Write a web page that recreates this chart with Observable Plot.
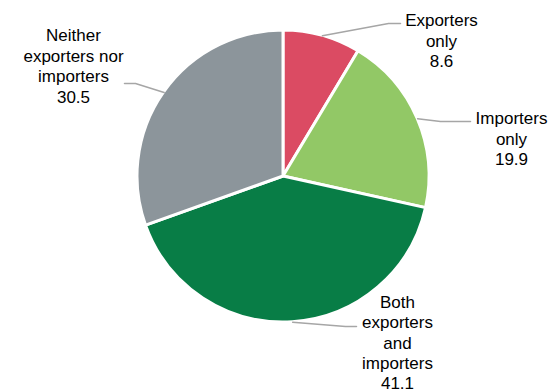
<!DOCTYPE html>
<html><head><meta charset="utf-8">
<script src="https://cdn.jsdelivr.net/npm/d3@7"></script>
<script src="https://cdn.jsdelivr.net/npm/@observablehq/plot@0.6"></script>
<style>body{margin:0;background:#fff}</style>
</head><body><div id="chart"></div>
<script>
// ---- data ----
const categories = ["Exporters only", "Importers only", "Both exporters and importers", "Neither exporters nor importers"];
const values = [8.6, 19.9, 41.1, 30.5];
const labelTexts = ["Exporters\nonly", "Importers\nonly", "Both\nexporters\nand\nimporters", "Neither\nexporters nor\nimporters"];

// ---- styles / layout ----
const colors = ["#DB4B63", "#92C866", "#087D46", "#8C959B"];
const R = 146; // pie radius in data units
const labelPos = [[158, 136.4], [228, 38.4], [114, -165.6], [-210, 111]];
const leaderBends = [
  [[105, 153], [117, 153]],
  [[157, 55], [187, 55]],
  [[62, -150], [73, -150]],
  [[-148, 93], [-159, 93]]
];

const arcs = d3.pie().sort(null).value(d => d)(values);
const rows = categories.map((c, i) => ({
  category: c,
  value: values[i],
  label: labelTexts[i] + "\n" + values[i].toFixed(1),
  mid: (arcs[i].startAngle + arcs[i].endAngle) / 2,
  lx: labelPos[i][0],
  ly: labelPos[i][1]
}));

const leaders = rows.flatMap((d, i) => [
  {k: i, x: R * Math.sin(d.mid), y: R * Math.cos(d.mid)},
  {k: i, x: leaderBends[i][0][0], y: leaderBends[i][0][1]},
  {k: i, x: leaderBends[i][1][0], y: leaderBends[i][1][1]}
]);

function wedges(index, scales) {
  const cx = scales.x(0), cy = scales.y(0);
  const r = scales.x(R) - scales.x(0);
  const arc = d3.arc().innerRadius(0).outerRadius(r);
  const g = d3.create("svg:g").attr("transform", `translate(${cx},${cy})`);
  g.selectAll("path").data(arcs).join("path")
    .attr("d", arc)
    .attr("fill", (d, i) => colors[i])
    .attr("stroke", "#fff")
    .attr("stroke-width", 3)
    .attr("stroke-linejoin", "round");
  return g.node();
}

const chart = Plot.plot({
  width: 550,
  height: 389,
  margin: 0,
  style: {background: "#fff", fontFamily: "'Liberation Sans', Arial, sans-serif"},
  x: {domain: [-283, 267], axis: null},
  y: {domain: [-213, 176], axis: null},
  marks: [
    wedges,
    Plot.line(leaders, {x: "x", y: "y", z: "k", stroke: "#A6A6A6", strokeWidth: 1.5}),
    Plot.text(rows, {
      x: "lx", y: "ly", text: "label",
      fontSize: 17, lineHeight: 1.2,
      textAnchor: "middle", lineAnchor: "middle",
      fill: "#000"
    })
  ]
});
document.getElementById("chart").appendChild(chart);
</script>
</body></html>
